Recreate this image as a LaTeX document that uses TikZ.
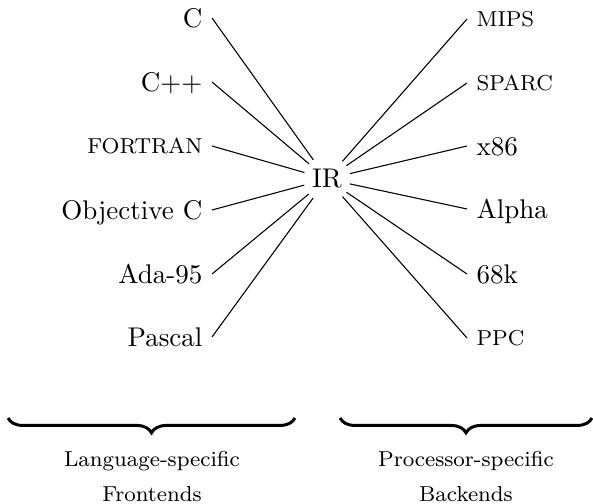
\documentclass[tikz,border=0pt]{standalone}
\usetikzlibrary{decorations.pathreplacing}

\begin{document}
\begin{tikzpicture}[x=0.37pt,y=-0.37pt]
        \tikzstyle{every node}=[inner sep=3.33pt]
        \tikzstyle{lang}=[anchor=east, text height=6.83pt, text depth=0pt]
        \tikzstyle{langsc}=[lang, font=\footnotesize, text height=5.47pt]
        \tikzstyle{proc}=[anchor=west, text height=6.83pt, text depth=0pt]
        \tikzstyle{procsc}=[proc, font=\footnotesize, text height=5.47pt]
        \tikzstyle{group}=[decorate, decoration={brace, mirror, amplitude=5.5pt}, line width=1.1pt]
        \tikzstyle{caption}=[anchor=base, font=\footnotesize, inner sep=0pt]
        \useasboundingbox (0,0) rectangle (593,504);
        % the intermediate representation
        \node[circle, inner sep=0pt, minimum size=17pt] (ir) at (327,179) {IR};
        % frontends
        \node[lang]   (c)      at (212,18)  {C};
        \node[lang]   (cpp)    at (212,82)  {C++};
        \node[langsc] (fortran) at (212,146) {FORTRAN};
        \node[lang]   (objc)   at (212,210) {Objective C};
        \node[lang]   (ada)    at (212,274) {Ada-95};
        \node[lang]   (pascal) at (212,337) {Pascal};
        % backends
        \node[procsc] (mips)   at (467,19)  {MIPS};
        \node[procsc] (sparc)  at (467,83)  {SPARC};
        \node[proc]   (x86)    at (467,146) {x86};
        \node[proc]   (alpha)  at (467,209) {Alpha};
        \node[proc]   (m68k)   at (467,274) {68k};
        \node[procsc] (ppc)    at (467,338) {PPC};
        \draw[thin] (c.east) -- (ir);
        \draw[thin] (cpp.east) -- (ir);
        \draw[thin] (fortran.east) -- (ir);
        \draw[thin] (objc.east) -- (ir);
        \draw[thin] (ada.east) -- (ir);
        \draw[thin] (pascal.east) -- (ir);
        \draw[thin] (ir) -- (mips.west);
        \draw[thin] (ir) -- (sparc.west);
        \draw[thin] (ir) -- (x86.west);
        \draw[thin] (ir) -- (alpha.west);
        \draw[thin] (ir) -- (m68k.west);
        \draw[thin] (ir) -- (ppc.west);
        % braces
        \coordinate (frontL) at (8,418);
        \coordinate (frontR) at (295,418);
        \coordinate (backL) at (340,418);
        \coordinate (backR) at (592,418);
        \draw[group] (frontL) -- (frontR);
        \draw[group] (backL) -- (backR);
        \node[caption] (front1) at (152,467) {Language-specific};
        \node[caption] (front2) at (152,502) {Frontends};
        \node[caption] (back1)  at (466,467) {Processor-specific};
        \node[caption] (back2)  at (466,502) {Backends};
    \end{tikzpicture}
\end{document}
